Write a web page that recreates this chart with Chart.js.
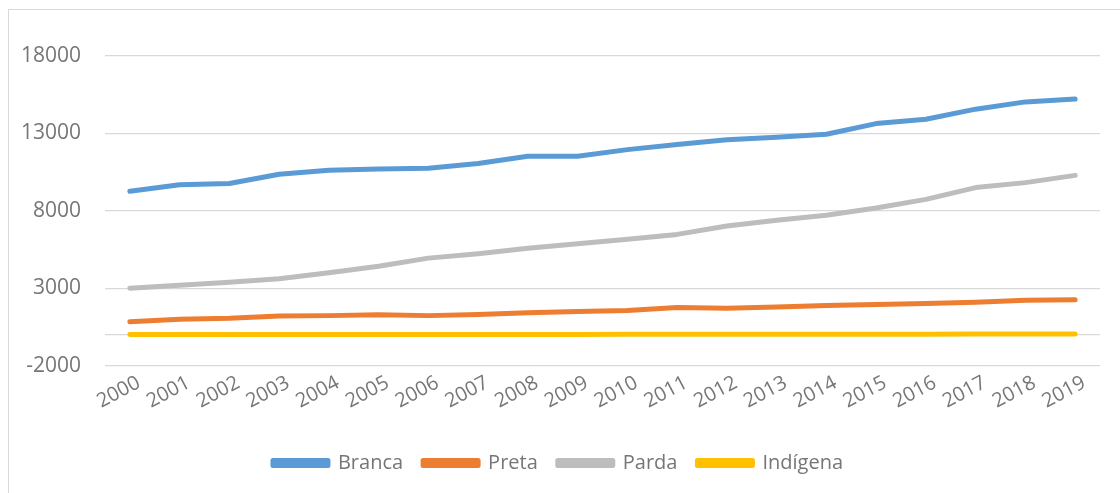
<!DOCTYPE html>
<html>

<head>
    <meta charset="UTF-8">
    <title>Branca, Preta, Parda, Indígena</title>
    <script src="https://cdn.jsdelivr.net/npm/chart.js@4.4.1/dist/chart.umd.min.js"></script>
    <style>
        body { margin: 0; background: #ffffff; }
        #wrap { position: relative; width: 1120px; height: 493px; }
        #frame {
            position: absolute; left: 8px; top: 9px; right: -2px; bottom: -2px;
            border-left: 1px solid #d9d9d9; border-top: 1px solid #d9d9d9;
            pointer-events: none;
        }
    </style>
</head>

<body>
    <div id="wrap">
        <canvas id="chart" width="1120" height="493"></canvas>
        <div id="frame"></div>
    </div>
    <script>
        const years = ['2000', '2001', '2002', '2003', '2004', '2005', '2006', '2007', '2008', '2009',
            '2010', '2011', '2012', '2013', '2014', '2015', '2016', '2017', '2018', '2019'];

        const branca = [9270, 9700, 9770, 10370, 10630, 10710, 10760, 11060, 11530, 11530,
            11960, 12290, 12590, 12760, 12950, 13640, 13920, 14570, 15040, 15220];
        const preta = [850, 1020, 1080, 1230, 1250, 1300, 1250, 1320, 1430, 1510,
            1580, 1770, 1730, 1810, 1900, 1960, 2030, 2120, 2240, 2270];
        const parda = [3020, 3210, 3400, 3630, 4010, 4440, 4960, 5240, 5590, 5890,
            6170, 6490, 7030, 7400, 7720, 8190, 8750, 9510, 9830, 10300];
        const indigena = [25, 26, 28, 30, 31, 33, 34, 36, 38, 40,
            41, 43, 45, 47, 50, 52, 55, 58, 62, 66];

        const yTicks = [-2000, 3000, 8000, 13000, 18000];

        const textGray = '#767676';
        const gridGray = '#d9d9d9';

        function series(label, data, color) {
            return {
                label: label,
                data: data,
                borderColor: color,
                backgroundColor: color,
                borderWidth: 5,
                borderCapStyle: 'round',
                borderJoinStyle: 'round',
                pointRadius: 0,
                pointHoverRadius: 0,
                tension: 0,
                fill: false
            };
        }

        let ctx = document.getElementById('chart').getContext('2d');
        let chart = new Chart(ctx, {
            type: 'line',
            data: {
                labels: years,
                datasets: [
                    series('Branca', branca, '#5b9bd5'),
                    series('Preta', preta, '#ed7d31'),
                    series('Parda', parda, '#bdbdbd'),
                    series('Indígena', indigena, '#ffc000')
                ]
            },
            options: {
                responsive: false,
                animation: false,
                layout: {
                    padding: { top: 56, right: 20, bottom: 10, left: 16 }
                },
                plugins: {
                    legend: {
                        position: 'bottom',
                        labels: {
                            boxWidth: 55,
                            boxHeight: 5,
                            padding: 20,
                            color: textGray,
                            font: { family: 'Open Sans', size: 20 }
                        }
                    },
                    tooltip: { enabled: false }
                },
                scales: {
                    x: {
                        offset: true,
                        grid: { display: false, drawTicks: false },
                        border: { display: false },
                        ticks: {
                            color: textGray,
                            font: { family: 'Open Sans', size: 20 },
                            minRotation: 28,
                            maxRotation: 28,
                            autoSkip: false,
                            padding: 5,
                            labelOffset: 9
                        },
                        afterFit: function (scale) { scale.height = 67; }
                    },
                    y: {
                        min: -2000,
                        max: 18000,
                        border: { display: false },
                        grid: { color: gridGray, lineWidth: 1.3, drawTicks: false },
                        ticks: {
                            color: textGray,
                            font: { family: 'Open Sans', size: 21 },
                            padding: 24,
                            callback: function (v) { return v === 0 ? '' : v; }
                        },
                        afterBuildTicks: function (scale) {
                            // axis line of the categories sits at zero
                            scale.ticks = yTicks.concat([0]).sort((a, b) => a - b).map(v => ({ value: v }));
                        },
                        afterFit: function (scale) { scale.width = 89; }
                    }
                }
            }
        });
    </script>
</body>

</html>
